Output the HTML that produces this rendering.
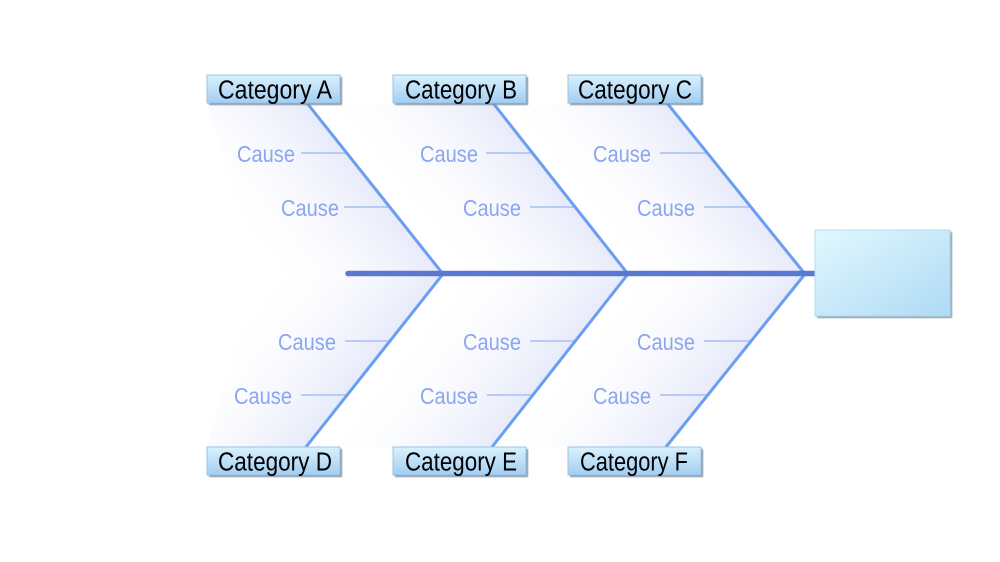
<!DOCTYPE html>
<html>
<head>
<meta charset="utf-8">
<style>
html,body{margin:0;padding:0;background:#fff;}
svg{display:block;}
.cat{font-family:"Liberation Sans",Arial,sans-serif;font-size:25.5px;fill:#000;}
.cause{font-family:"Liberation Sans",Arial,sans-serif;font-size:23.5px;fill:#8aa6f0;}
.cl{stroke:#a8bff3;stroke-width:1.5;}
.bone{stroke:#6a9ef0;stroke-width:3;stroke-linecap:round;}
</style>
</head>
<body>
<svg width="1000" height="562" viewBox="0 0 1000 562" xmlns="http://www.w3.org/2000/svg">
<defs>
  <linearGradient id="gA" gradientUnits="userSpaceOnUse" x1="375" y1="188.5" x2="266" y2="275.5">
    <stop offset="0" stop-color="#e7eafa"/><stop offset="1" stop-color="#ffffff" stop-opacity="0"/>
  </linearGradient>
  <linearGradient id="gB" gradientUnits="userSpaceOnUse" x1="560.5" y1="188.5" x2="451.5" y2="275.5">
    <stop offset="0" stop-color="#e7eafa"/><stop offset="1" stop-color="#ffffff" stop-opacity="0"/>
  </linearGradient>
  <linearGradient id="gC" gradientUnits="userSpaceOnUse" x1="736" y1="188.5" x2="627" y2="275.5">
    <stop offset="0" stop-color="#e7eafa"/><stop offset="1" stop-color="#ffffff" stop-opacity="0"/>
  </linearGradient>
  <linearGradient id="gD" gradientUnits="userSpaceOnUse" x1="374.5" y1="360.5" x2="265.5" y2="273.5">
    <stop offset="0" stop-color="#e7eafa"/><stop offset="1" stop-color="#ffffff" stop-opacity="0"/>
  </linearGradient>
  <linearGradient id="gE" gradientUnits="userSpaceOnUse" x1="560" y1="360.5" x2="451" y2="273.5">
    <stop offset="0" stop-color="#e7eafa"/><stop offset="1" stop-color="#ffffff" stop-opacity="0"/>
  </linearGradient>
  <linearGradient id="gF" gradientUnits="userSpaceOnUse" x1="735.5" y1="360.5" x2="626.5" y2="273.5">
    <stop offset="0" stop-color="#e7eafa"/><stop offset="1" stop-color="#ffffff" stop-opacity="0"/>
  </linearGradient>
  <linearGradient id="gbox" x1="0" y1="0" x2="0" y2="1">
    <stop offset="0" stop-color="#d9f2fd"/>
    <stop offset="1" stop-color="#a3cdf3"/>
  </linearGradient>
  <linearGradient id="gbig" x1="0" y1="0" x2="1" y2="1">
    <stop offset="0" stop-color="#e1f8fe"/>
    <stop offset="1" stop-color="#afdaf5"/>
  </linearGradient>
  <filter id="sh" x="-10%" y="-10%" width="130%" height="140%">
    <feGaussianBlur stdDeviation="0.8"/>
  </filter>
</defs>

<!-- shading -->
<polygon points="207,103 307,103 443,274 257,274" fill="url(#gA)"/>
<polygon points="307,103 493,103 628,274 443,274" fill="url(#gB)"/>
<polygon points="493,103 667,103 805,274 628,274" fill="url(#gC)"/>
<polygon points="443,274 306,447 207,447 257,274" fill="url(#gD)"/>
<polygon points="443,274 628,274 492,447 306,447" fill="url(#gE)"/>
<polygon points="628,274 805,274 666,447 492,447" fill="url(#gF)"/>

<!-- cause lines -->
<line class="cl" x1="301" y1="153" x2="347" y2="153"/>
<line class="cl" x1="344" y1="207" x2="390" y2="207"/>
<line class="cl" x1="486" y1="153" x2="532" y2="153"/>
<line class="cl" x1="530" y1="207" x2="575" y2="207"/>
<line class="cl" x1="660" y1="153" x2="707" y2="153"/>
<line class="cl" x1="704" y1="207" x2="751" y2="207"/>
<line class="cl" x1="345" y1="341" x2="390" y2="341"/>
<line class="cl" x1="301" y1="395" x2="347" y2="395"/>
<line class="cl" x1="530" y1="341" x2="575" y2="341"/>
<line class="cl" x1="487" y1="395" x2="533" y2="395"/>
<line class="cl" x1="704" y1="341" x2="751" y2="341"/>
<line class="cl" x1="660" y1="395" x2="708" y2="395"/>

<!-- bones -->
<line class="bone" x1="307" y1="103" x2="443" y2="274"/>
<line class="bone" x1="493" y1="103" x2="628" y2="274"/>
<line class="bone" x1="667" y1="103" x2="805" y2="274"/>
<line class="bone" x1="443" y1="274" x2="306" y2="447"/>
<line class="bone" x1="628" y1="274" x2="492" y2="447"/>
<line class="bone" x1="805" y1="274" x2="666" y2="447"/>

<!-- spine -->
<line x1="348" y1="273.5" x2="816" y2="273.5" stroke="#5b78cf" stroke-width="5.5" stroke-linecap="round"/>

<!-- cause texts -->
<text class="cause" x="237" y="162" textLength="58" lengthAdjust="spacingAndGlyphs">Cause</text>
<text class="cause" x="281" y="216" textLength="58" lengthAdjust="spacingAndGlyphs">Cause</text>
<text class="cause" x="420" y="162" textLength="58" lengthAdjust="spacingAndGlyphs">Cause</text>
<text class="cause" x="463" y="216" textLength="58" lengthAdjust="spacingAndGlyphs">Cause</text>
<text class="cause" x="593" y="162" textLength="58" lengthAdjust="spacingAndGlyphs">Cause</text>
<text class="cause" x="637" y="216" textLength="58" lengthAdjust="spacingAndGlyphs">Cause</text>
<text class="cause" x="278" y="350" textLength="58" lengthAdjust="spacingAndGlyphs">Cause</text>
<text class="cause" x="234" y="404" textLength="58" lengthAdjust="spacingAndGlyphs">Cause</text>
<text class="cause" x="463" y="350" textLength="58" lengthAdjust="spacingAndGlyphs">Cause</text>
<text class="cause" x="420" y="404" textLength="58" lengthAdjust="spacingAndGlyphs">Cause</text>
<text class="cause" x="637" y="350" textLength="58" lengthAdjust="spacingAndGlyphs">Cause</text>
<text class="cause" x="593" y="404" textLength="58" lengthAdjust="spacingAndGlyphs">Cause</text>

<!-- category boxes -->
<g>
  <rect x="209" y="77" width="133" height="28" fill="#7f90a6" filter="url(#sh)"/>
  <rect x="207" y="75" width="133" height="28" fill="url(#gbox)" stroke="#9cc3e3" stroke-width="1"/>
  <text class="cat" x="218" y="98.5" textLength="114" lengthAdjust="spacingAndGlyphs">Category A</text>

  <rect x="395" y="77" width="133" height="28" fill="#7f90a6" filter="url(#sh)"/>
  <rect x="393" y="75" width="133" height="28" fill="url(#gbox)" stroke="#9cc3e3" stroke-width="1"/>
  <text class="cat" x="405" y="98.5" textLength="112" lengthAdjust="spacingAndGlyphs">Category B</text>

  <rect x="570" y="77" width="133" height="28" fill="#7f90a6" filter="url(#sh)"/>
  <rect x="568" y="75" width="133" height="28" fill="url(#gbox)" stroke="#9cc3e3" stroke-width="1"/>
  <text class="cat" x="578" y="98.5" textLength="114" lengthAdjust="spacingAndGlyphs">Category C</text>

  <rect x="209" y="449" width="133" height="28" fill="#7f90a6" filter="url(#sh)"/>
  <rect x="207" y="447" width="133" height="28" fill="url(#gbox)" stroke="#9cc3e3" stroke-width="1"/>
  <text class="cat" x="218" y="470.5" textLength="114" lengthAdjust="spacingAndGlyphs">Category D</text>

  <rect x="395" y="449" width="133" height="28" fill="#7f90a6" filter="url(#sh)"/>
  <rect x="393" y="447" width="133" height="28" fill="url(#gbox)" stroke="#9cc3e3" stroke-width="1"/>
  <text class="cat" x="405" y="470.5" textLength="112" lengthAdjust="spacingAndGlyphs">Category E</text>

  <rect x="570" y="449" width="133" height="28" fill="#7f90a6" filter="url(#sh)"/>
  <rect x="568" y="447" width="133" height="28" fill="url(#gbox)" stroke="#9cc3e3" stroke-width="1"/>
  <text class="cat" x="580" y="470.5" textLength="108" lengthAdjust="spacingAndGlyphs">Category F</text>
</g>

<!-- effect box -->
<rect x="817" y="232" width="135" height="86" fill="#8898aa" filter="url(#sh)"/>
<rect x="815" y="230" width="135" height="86" fill="url(#gbig)" stroke="#b5dcef" stroke-width="1"/>
</svg>
</body>
</html>
